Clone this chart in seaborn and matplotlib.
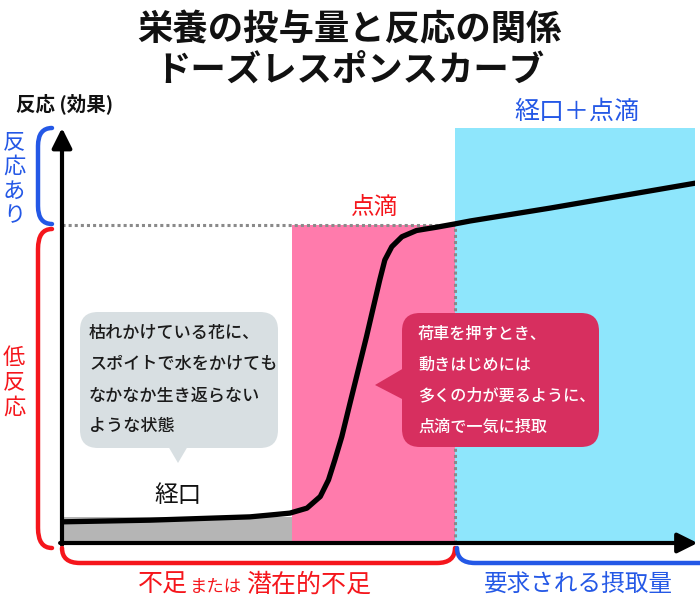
import numpy as np
import matplotlib.pyplot as plt
import seaborn as sns
from matplotlib.patches import FancyBboxPatch, Polygon, PathPatch
from matplotlib.path import Path

sns.set_theme(style="white")
plt.rcParams["font.family"] = ["Noto Sans CJK JP", "DejaVu Sans"]

# 投与量（横軸 0-100）と反応（縦軸 0-100）
dose = [0, 13.9, 29.7, 32.9, 36.0, 38.7, 40.8, 42.1, 43.1, 44.2, 45.5,
        46.8, 48.1, 49.2, 50.2, 51.0, 52.1, 53.7, 56.0, 59.2, 62.1, 64.5,
        77.1, 100]
response = [5.1, 5.5, 6.3, 6.75, 7.2, 8.4, 11.2, 15.2, 20.0, 25.6, 33.7,
            41.7, 49.7, 56.9, 63.4, 68.2, 71.4, 73.8, 75.3, 76.1, 76.9, 77.6,
            80.7, 86.7]

# 領域（経口 / 点滴 / 経口＋点滴）
zone_names = ["経口", "点滴", "経口＋点滴"]
zone_start = [0, 36.3, 62.1]
zone_end = [36.3, 62.1, 100]
zone_height = [6.3, 76.6, 100]
zone_colors = ["#b5b5b5", "#ff7bac", "#8ee6fc"]
threshold = 76.6

left_note = ["枯れかけている花に、", "スポイトで水をかけても",
             "なかなか生き返らない", "ような状態"]
right_note = ["荷車を押すとき、", "動きはじめには",
              "多くの力が要るように、", "点滴で一気に摂取"]

BLUE = "#2458e6"
RED = "#f5161c"

fig = plt.figure(figsize=(7, 6), dpi=100)
ax = fig.add_axes([62 / 700, 57 / 600, 633 / 700, 415 / 600])

# 背景の領域
ax.bar(zone_start, zone_height, width=np.subtract(zone_end, zone_start),
       align="edge", color=zone_colors, linewidth=0, zorder=1)

# しきい値の点線
ax.hlines(threshold, 0, zone_start[2], colors="#8a8a8a",
          linestyles=(0, (1, 1)), linewidth=2.2, zorder=2)
ax.vlines(zone_start[2], 0, threshold, colors="#8a8a8a",
          linestyles=(0, (1, 1)), linewidth=2.2, zorder=2)

# ドーズレスポンスカーブ
sns.lineplot(x=dose, y=response, ax=ax, color="black", linewidth=3.8,
             zorder=4)
ax.lines[-1].set_solid_joinstyle("round")
ax.set_xlim(0, 100)
ax.set_ylim(0, 100)
ax.set_axis_off()

# 軸の矢印
arrow = dict(arrowstyle="-|>,head_length=0.6,head_width=0.3", lw=3,
             color="black", shrinkA=0, shrinkB=0, mutation_scale=20)
ax.annotate("", xy=(0, 1), xytext=(0, -0.005), xycoords="axes fraction",
            arrowprops=arrow, annotation_clip=False)
ax.annotate("", xy=(1.004, 0), xytext=(-0.003, 0), xycoords="axes fraction",
            arrowprops=arrow, annotation_clip=False)

# 装飾用のオーバーレイ（ピクセル座標）
ov = fig.add_axes([0, 0, 1, 1], zorder=5)
ov.set_xlim(0, 700)
ov.set_ylim(600, 0)
ov.set_axis_off()
ov.patch.set_alpha(0)


def bracket(pts, color):
    codes = [Path.MOVETO, Path.CURVE3, Path.CURVE3, Path.LINETO,
             Path.CURVE3, Path.CURVE3]
    p = PathPatch(Path(pts, codes[:len(pts)]), fill=False, edgecolor=color,
                  lw=3.2, capstyle="round", joinstyle="round")
    ov.add_patch(p)


# 縦の括弧
bracket([(52, 128), (38, 128), (38, 146), (38, 206), (38, 224), (52, 224)], BLUE)
bracket([(52, 229), (38, 229), (38, 249), (38, 528), (38, 548), (52, 548)], RED)
# 横の括弧
bracket([(62, 548), (62, 563), (80, 563), (437, 563), (455, 563), (455, 548)], RED)
bracket([(457, 548), (457, 563), (475, 563), (700, 563)], BLUE)

# タイトル
ov.text(350, 30, "栄養の投与量と反応の関係", ha="center", va="center",
        fontsize=25.5, fontweight="bold", color="#111111")
ov.text(350, 70, "ドーズレスポンスカーブ", ha="center", va="center",
        fontsize=25.5, fontweight="bold", color="#111111")

ov.text(16, 104, "反応 (効果)", ha="left", va="center", fontsize=14,
        fontweight="bold", color="#111111")

for i, ch in enumerate("反応あり"):
    ov.text(14, 142 + i * 24.5, ch, ha="center", va="center", fontsize=16,
            color=BLUE)
for i, ch in enumerate("低反応"):
    ov.text(14, 357 + i * 25, ch, ha="center", va="center", fontsize=16,
            color=RED)

ov.text(577, 112, zone_names[2], ha="center", va="center", fontsize=18,
        color=BLUE)
ov.text(375, 207, zone_names[1], ha="center", va="center", fontsize=17,
        color=RED)
ov.text(178, 496, zone_names[0], ha="center", va="center", fontsize=17,
        color="#111111")

# 吹き出し（左）
ov.add_patch(FancyBboxPatch((80, 312), 198, 136,
                            boxstyle="round,pad=0,rounding_size=18",
                            facecolor="#d8dfe2", edgecolor="none"))
ov.add_patch(Polygon([(168, 446), (188, 446), (178, 463)], closed=True,
                     facecolor="#d8dfe2", edgecolor="none"))
for i, line in enumerate(left_note):
    ov.text(89, 333 + i * 31, line, ha="left", va="center", fontsize=12.3,
            fontweight="medium", color="#1a1a1a")

# 吹き出し（右）
ov.add_patch(FancyBboxPatch((402, 313), 197, 134,
                            boxstyle="round,pad=0,rounding_size=18",
                            facecolor="#d72f5f", edgecolor="none"))
ov.add_patch(Polygon([(404, 368), (404, 400), (375, 385)], closed=True,
                     facecolor="#d72f5f", edgecolor="none"))
for i, line in enumerate(right_note):
    ov.text(418, 334 + i * 31, line, ha="left", va="center", fontsize=11.6,
            fontweight="medium", color="white")

# 下の説明
ov.text(138, 585, "不足", ha="left", va="center", fontsize=18, color=RED)
ov.text(190, 587, "または", ha="left", va="center", fontsize=12.5, color=RED)
ov.text(246, 585, "潜在的不足", ha="left", va="center", fontsize=18, color=RED)
ov.text(578, 585, "要求される摂取量", ha="center", va="center", fontsize=17,
        color=BLUE)

fig.savefig("out.png", dpi=100)
